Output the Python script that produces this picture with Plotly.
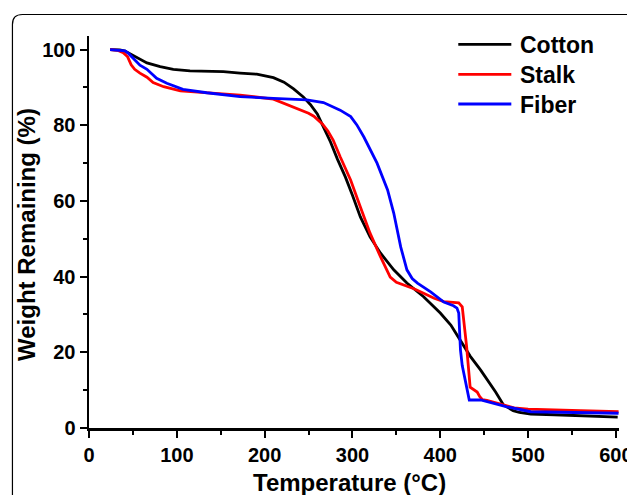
import plotly.graph_objects as go

# ---------------- data ----------------
cotton_temp = [24, 35, 41, 50, 58, 66, 81, 96, 115, 153, 172, 191, 210, 222, 233, 244,
               252, 260, 267, 275, 283, 292, 300, 309, 320, 332, 347, 362, 381, 400,
               412, 419, 434, 446, 454, 463, 472, 483, 490, 503, 530, 560, 602]
cotton_wt = [100, 99.9, 99.6, 98.5, 97.4, 96.5, 95.5, 94.8, 94.4, 94.2, 93.8, 93.5, 92.6,
             91.4, 89.6, 87.5, 85.5, 83.0, 79.5, 75.6, 71.0, 66.3, 61.5, 55.8, 50.5, 46.2,
             41.8, 38.3, 34.7, 30.4, 27.2, 24.5, 19.0, 15.3, 12.7, 9.5, 6.1, 4.6, 4.1,
             3.7, 3.5, 3.25, 2.9]

stalk_temp = [24, 33, 39, 44, 48, 52, 58, 66, 73, 85, 104, 134, 172, 210, 229, 240, 250,
              256, 262, 266, 272, 278, 286, 298, 309, 320, 332, 343, 350, 358, 370, 381,
              393, 404, 412, 421, 425, 430, 434, 438, 442, 445, 448, 453, 470, 484, 500,
              522, 560, 603]
stalk_wt = [100, 99.8, 99.2, 98.1, 96.0, 94.8, 93.8, 92.7, 91.3, 90.2, 89.1, 88.6, 88.0,
            86.9, 85.2, 84.3, 83.2, 82.4, 81.2, 80.3, 78.5, 76.1, 71.7, 65.5, 58.4, 51.5,
            45.2, 39.9, 38.5, 37.8, 36.8, 35.6, 34.3, 33.4, 33.2, 33.1, 32.0, 21.5, 10.8,
            10.2, 9.5, 8.3, 7.5, 7.3, 6.2, 5.3, 5.0, 4.8, 4.6, 4.3]

fiber_temp = [24, 35, 41, 45, 48.6, 53, 58, 66, 77, 88.6, 107, 134, 172, 210, 248, 267,
              278, 286, 298, 305, 313, 320, 328, 340, 347, 355, 362, 368, 374, 389, 404,
              415, 419, 421, 423, 425, 429, 433, 446, 476, 503, 560, 603]
fiber_wt = [100, 99.9, 99.7, 99.0, 98.1, 97.0, 95.9, 94.8, 92.4, 91.1, 89.5, 88.6, 87.6,
            87.1, 86.7, 86.0, 84.9, 84.0, 82.3, 80.1, 76.9, 73.5, 70.0, 62.9, 56.8, 47.8,
            41.8, 39.5, 38.3, 36.0, 33.3, 32.3, 31.7, 30.4, 20.6, 16.5, 12.0, 7.4, 7.4,
            5.6, 4.3, 4.1, 3.9]

series_names = ["Cotton", "Stalk", "Fiber"]
series_colors = ["#000000", "#ff0000", "#0000ff"]
x_tick_values = [0, 100, 200, 300, 400, 500, 600]
y_tick_values = [0, 20, 40, 60, 80, 100]

# ---------------- layout geometry ----------------
W, H = 627, 495
L, R, T, B = 89, 8.4, 36, 67
plot_w = W - L - R
plot_h = H - T - B


def fx(px):
    return (px - L) / plot_w


def fy(py):
    return (H - B - py) / plot_h


FONT = "Liberation Sans, Arial, sans-serif"

fig = go.Figure()
data = [(cotton_temp, cotton_wt), (stalk_temp, stalk_wt), (fiber_temp, fiber_wt)]
for (xs, ys), name, color in zip(data, series_names, series_colors):
    fig.add_trace(go.Scatter(x=xs, y=ys, mode="lines", name=name,
                             line=dict(color=color, width=2.8),
                             showlegend=False, hoverinfo="skip"))

axis_common = dict(
    showline=True, linewidth=2.5, linecolor="black", mirror=False,
    showgrid=False, zeroline=False, ticks="outside", ticklen=7, tickwidth=2,
    tickcolor="black", automargin=False, ticklabeloverflow="allow",
    tickfont=dict(family=FONT, size=20, color="black", weight="bold"),
)

fig.update_xaxes(range=[0, 603.5], tickmode="array", tickvals=x_tick_values,
                 minor=dict(ticks="outside", ticklen=4, tickwidth=2, tickcolor="black",
                            dtick=50, tick0=0, showgrid=False),
                 **axis_common)
fig.update_yaxes(range=[0, 103.6], tickmode="array", tickvals=y_tick_values,
                 minor=dict(ticks="outside", ticklen=4, tickwidth=2, tickcolor="black",
                            dtick=10, tick0=0, showgrid=False),
                 **axis_common)

shapes = []
# rounded frame around the figure (cut off at right and bottom)
r = 10
path = (f"M {fx(12.5)},{fy(520)} L {fx(12.5)},{fy(14.5 + r)} "
        f"Q {fx(12.5)},{fy(14.5)} {fx(12.5 + r)},{fy(14.5)} L {fx(660)},{fy(14.5)}")
shapes.append(dict(type="path", xref="paper", yref="paper", path=path,
                   line=dict(color="black", width=1.2)))

annotations = []
legend_y = [44.3, 74.3, 104]
for name, color, ly in zip(series_names, series_colors, legend_y):
    shapes.append(dict(type="line", xref="paper", yref="paper",
                       x0=fx(458), x1=fx(511), y0=fy(ly), y1=fy(ly),
                       line=dict(color=color, width=2.8)))
    annotations.append(dict(xref="paper", yref="paper", x=fx(518), y=fy(ly + 1),
                            xanchor="left", yanchor="middle", showarrow=False,
                            text=name,
                            font=dict(family=FONT, size=23, color="black", weight="bold")))

annotations.append(dict(xref="paper", yref="paper", x=fx(349), y=fy(482),
                        xanchor="center", yanchor="middle", showarrow=False,
                        text="Temperature (°C)",
                        font=dict(family=FONT, size=24, color="black", weight="bold")))
annotations.append(dict(xref="paper", yref="paper", x=fx(27), y=fy(234),
                        xanchor="center", yanchor="middle", showarrow=False,
                        textangle=-90, text="Weight Remaining (%)",
                        font=dict(family=FONT, size=24, color="black", weight="bold")))

fig.update_layout(
    template="none",
    width=W, height=H,
    margin=dict(l=L, r=R, t=T, b=B, pad=0),
    paper_bgcolor="white", plot_bgcolor="white",
    showlegend=False,
    shapes=shapes, annotations=annotations,
)

fig.write_html("out.html", config={"displayModeBar": False, "staticPlot": True},
               post_script="document.body.style.margin='0px';"
                           "document.body.style.overflow='hidden';")
